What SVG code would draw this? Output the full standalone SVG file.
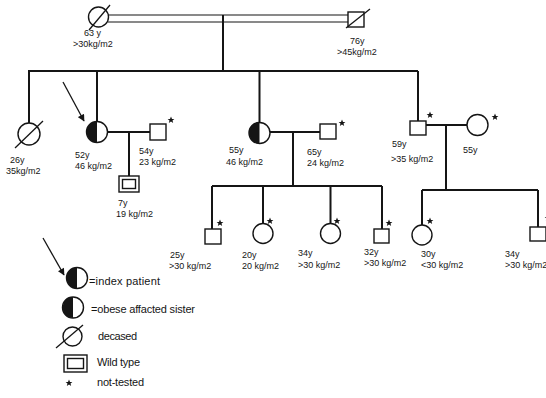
<svg xmlns="http://www.w3.org/2000/svg" width="546" height="398" viewBox="0 0 546 398">
<defs>
<style>
.ln{stroke:#151515;stroke-width:2;fill:none}
.dl{stroke:#151515;stroke-width:1.2;fill:none}
.sym{stroke:#151515;stroke-width:1.4;fill:#fff}
.sl{stroke:#151515;stroke-width:1.3;fill:none}
.blk{fill:#151515;stroke:none}
.t{font-family:"Liberation Sans",Arial,sans-serif;font-size:9px;fill:#151515}
.lg{font-family:"Liberation Sans",Arial,sans-serif;font-size:11px;fill:#151515}
</style>
<path id="star" d="M0,-3.6 L1,-1.1 3.4,-1.1 1.5,0.4 2.2,2.9 0,1.5 -2.2,2.9 -1.5,0.4 -3.4,-1.1 -1,-1.1Z" fill="#151515"/>
<marker id="ah" viewBox="0 0 10 10" refX="9" refY="5" markerWidth="8" markerHeight="7" markerUnits="userSpaceOnUse" orient="auto">
<path d="M0,0 L10,5 L0,10 Z" fill="#151515"/>
</marker>
</defs>
<rect width="546" height="398" fill="#fff"/>

<g id="connectors">
<line class="dl" x1="108" y1="15" x2="348" y2="15"/>
<line class="dl" x1="108" y1="22" x2="348" y2="22"/>
<path class="ln" d="M223,15 V71 M28,71 H418 M29,71 V123 M97,71 V121.5 M259.5,71 V122.5 M418,71 V121"/>
<path class="ln" d="M107.5,132 H150 M129,132 V176"/>
<path class="ln" d="M270,132 H320 M293,132 V186 M212,186 H382 M212,186 V229 M263,186 V223.5 M330.5,186 V223.5 M382,186 V229"/>
<path class="ln" d="M426,125 H467 M446,125 V190 M422,190 H538 M422,190 V225 M538,190 V227"/>
<line class="sl" x1="63" y1="82" x2="84" y2="121" marker-end="url(#ah)"/>
</g>

<g id="grandmother">
<circle class="sym" cx="98.5" cy="17" r="10"/>
<line class="sl" x1="89" y1="30" x2="110" y2="5"/>
<text class="t" x="84" y="36">63 y</text>
<text class="t" x="73" y="47">&gt;30kg/m2</text>
</g>
<g id="grandfather">
<rect class="sym" x="348" y="12" width="16" height="15"/>
<line class="sl" x1="346" y1="28" x2="370" y2="9"/>
<text class="t" x="350" y="44">76y</text>
<text class="t" x="337" y="55">&gt;45kg/m2</text>
</g>

<g id="sister-deceased">
<circle class="sym" cx="29" cy="134" r="11"/>
<line class="sl" x1="15" y1="148" x2="43" y2="121"/>
<text class="t" x="10" y="163">26y</text>
<text class="t" x="6" y="174">35kg/m2</text>
</g>

<g id="index-patient">
<circle class="sym" cx="97" cy="132" r="10.5"/>
<path class="blk" d="M97,121.5 A10.5,10.5 0 0 0 97,142.5 Z"/>
<text class="t" x="75" y="158">52y</text>
<text class="t" x="75" y="169">46 kg/m2</text>
</g>
<g id="husband1">
<rect class="sym" x="150" y="124" width="16" height="16"/>
<use href="#star" x="171" y="120"/>
<text class="t" x="139" y="154">54y</text>
<text class="t" x="139" y="165">23 kg/m2</text>
</g>
<g id="child-wildtype">
<rect class="sym" x="119" y="176" width="20" height="16"/>
<rect class="sym" x="122.5" y="179.5" width="13" height="9"/>
<text class="t" x="118" y="206">7y</text>
<text class="t" x="116" y="217">19 kg/m2</text>
</g>

<g id="sister-obese">
<circle class="sym" cx="259.5" cy="133" r="10.5"/>
<path class="blk" d="M259.5,122.5 A10.5,10.5 0 0 0 259.5,143.5 Z"/>
<text class="t" x="229" y="153">55y</text>
<text class="t" x="226" y="165">46 kg/m2</text>
</g>
<g id="husband2">
<rect class="sym" x="320" y="124" width="16" height="15"/>
<use href="#star" x="342" y="123"/>
<text class="t" x="307" y="155">65y</text>
<text class="t" x="307" y="166">24 kg/m2</text>
</g>

<g id="c25">
<rect class="sym" x="205" y="229" width="16" height="15"/>
<use href="#star" x="220" y="223"/>
<text class="t" x="170" y="258">25y</text>
<text class="t" x="169" y="269">&gt;30 kg/m2</text>
</g>
<g id="c20">
<circle class="sym" cx="263" cy="233.5" r="10"/>
<use href="#star" x="270" y="221"/>
<text class="t" x="242" y="258">20y</text>
<text class="t" x="242" y="269">20 kg/m2</text>
</g>
<g id="c34a">
<circle class="sym" cx="330.5" cy="233.5" r="10"/>
<use href="#star" x="337" y="221"/>
<text class="t" x="298" y="256">34y</text>
<text class="t" x="298" y="268">&gt;30 kg/m2</text>
</g>
<g id="c32">
<rect class="sym" x="374" y="229" width="15" height="14"/>
<use href="#star" x="389" y="223"/>
<text class="t" x="364" y="255">32y</text>
<text class="t" x="364" y="266">&gt;30 kg/m2</text>
</g>

<g id="brother59">
<rect class="sym" x="410" y="121" width="16" height="14"/>
<use href="#star" x="430" y="115"/>
<text class="t" x="392" y="147">59y</text>
<text class="t" x="391" y="162">&gt;35 kg/m2</text>
</g>
<g id="wife55">
<circle class="sym" cx="477.5" cy="125" r="10.5"/>
<use href="#star" x="495" y="117"/>
<text class="t" x="463" y="153">55y</text>
</g>
<g id="c30">
<circle class="sym" cx="422" cy="235" r="10"/>
<use href="#star" x="430" y="221"/>
<text class="t" x="421" y="257">30y</text>
<text class="t" x="421" y="268">&lt;30 kg/m2</text>
</g>
<g id="c34b">
<rect class="sym" x="530" y="227" width="16" height="14"/>
<use href="#star" x="548" y="218"/>
<text class="t" x="505" y="257">34y</text>
<text class="t" x="505" y="268">&gt;30 kg/m2</text>
</g>

<g id="legend">
<line class="sl" x1="43" y1="238" x2="64" y2="275" marker-end="url(#ah)"/>
<circle class="sym" cx="77" cy="278" r="10.5"/>
<path class="blk" d="M77,267.5 A10.5,10.5 0 0 0 77,288.5 Z"/>
<text class="lg" x="89" y="285" textLength="71">=index patient</text>
<circle class="sym" cx="73" cy="307.5" r="10.5"/>
<path class="blk" d="M73,297 A10.5,10.5 0 0 0 73,318 Z"/>
<text class="lg" x="91" y="313" textLength="104">=obese affacted sister</text>
<circle class="sym" cx="72.5" cy="336.5" r="9.5"/>
<line class="sl" x1="56" y1="348" x2="83" y2="325"/>
<text class="lg" x="98" y="340" textLength="39">decased</text>
<rect class="sym" x="64" y="355" width="23" height="17"/>
<rect class="sym" x="67.5" y="358.5" width="16" height="10"/>
<text class="lg" x="97" y="366" textLength="43">Wild type</text>
<use href="#star" x="69" y="383"/>
<text class="lg" x="97" y="386" textLength="47">not-tested</text>
</g>
</svg>
